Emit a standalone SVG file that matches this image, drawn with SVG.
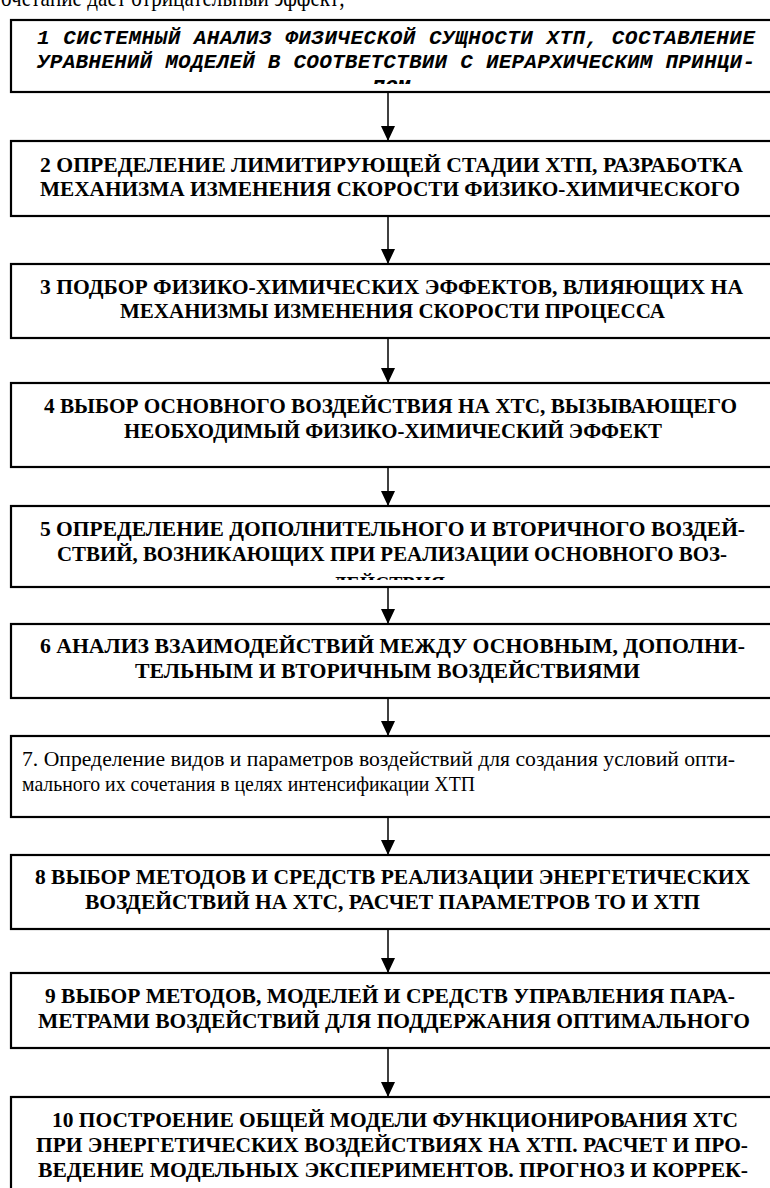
<svg xmlns="http://www.w3.org/2000/svg" width="770" height="1188" viewBox="0 0 770 1188">
<style>
.box{fill:#fff;stroke:#000;stroke-width:2.2}
.t{font-family:"Liberation Serif","Times New Roman",serif;font-size:21px;font-weight:bold;fill:#000}
.n{font-family:"Liberation Serif","Times New Roman",serif;font-size:21px;fill:#000}
.m{font-family:"Liberation Mono","Courier New",monospace;font-size:21px;font-weight:bold;font-style:italic;fill:#000}
.top{font-family:"Liberation Serif","Times New Roman",serif;font-size:26px;fill:#000}
.c{stroke:#000;stroke-width:1.5;fill:none}
</style>
<defs>
<marker id="ah" markerUnits="userSpaceOnUse" markerWidth="16" markerHeight="16" viewBox="0 0 16 16" refX="15" refY="8" orient="auto">
<path d="M0,1 L15,8 L0,15 Z" fill="#000"/>
</marker>
<clipPath id="c1"><rect x="11" y="20" width="780" height="64"/></clipPath>
<clipPath id="c5"><rect x="11" y="506" width="780" height="74"/></clipPath>
</defs>
<rect width="770" height="1188" fill="#fff"/>
<text class="top" x="1" y="6" textLength="344" lengthAdjust="spacingAndGlyphs">очетание дает отрицательный эффект;</text>

<g id="connectors">
<line class="c" x1="388" y1="92" x2="388" y2="141" marker-end="url(#ah)"/>
<line class="c" x1="388" y1="216" x2="388" y2="264" marker-end="url(#ah)"/>
<line class="c" x1="388" y1="338" x2="388" y2="383" marker-end="url(#ah)"/>
<line class="c" x1="388" y1="467" x2="388" y2="506" marker-end="url(#ah)"/>
<line class="c" x1="388" y1="587" x2="388" y2="624" marker-end="url(#ah)"/>
<line class="c" x1="388" y1="698" x2="388" y2="736" marker-end="url(#ah)"/>
<line class="c" x1="388" y1="817" x2="388" y2="855" marker-end="url(#ah)"/>
<line class="c" x1="388" y1="929" x2="388" y2="973" marker-end="url(#ah)"/>
<line class="c" x1="388" y1="1048" x2="388" y2="1097" marker-end="url(#ah)"/>
</g>

<g id="node1">
<rect class="box" x="11" y="20" width="780" height="72"/>
<g clip-path="url(#c1)">
<text class="m" x="37" y="44" textLength="718" lengthAdjust="spacing">1  СИСТЕМНЫЙ АНАЛИЗ ФИЗИЧЕСКОЙ СУЩНОСТИ ХТП, СОСТАВЛЕНИЕ</text>
<text class="m" x="37" y="68" textLength="718" lengthAdjust="spacing">УРАВНЕНИЙ МОДЕЛЕЙ В СООТВЕТСТВИИ С ИЕРАРХИЧЕСКИМ ПРИНЦИ-</text>
<text class="m" x="372" y="93" textLength="38" lengthAdjust="spacingAndGlyphs">ПОМ</text>
</g>
</g>

<g id="node2">
<rect class="box" x="11" y="141" width="780" height="75"/>
<text class="t" x="40" y="172" textLength="703" lengthAdjust="spacingAndGlyphs">2  ОПРЕДЕЛЕНИЕ ЛИМИТИРУЮЩЕЙ СТАДИИ ХТП, РАЗРАБОТКА</text>
<text class="t" x="40" y="196" textLength="700" lengthAdjust="spacingAndGlyphs">МЕХАНИЗМА ИЗМЕНЕНИЯ СКОРОСТИ ФИЗИКО-ХИМИЧЕСКОГО</text>
</g>

<g id="node3">
<rect class="box" x="11" y="264" width="780" height="74"/>
<text class="t" x="40" y="294" textLength="703" lengthAdjust="spacingAndGlyphs">3  ПОДБОР ФИЗИКО-ХИМИЧЕСКИХ ЭФФЕКТОВ, ВЛИЯЮЩИХ НА</text>
<text class="t" x="120" y="318" textLength="545" lengthAdjust="spacingAndGlyphs">МЕХАНИЗМЫ ИЗМЕНЕНИЯ СКОРОСТИ ПРОЦЕССА</text>
</g>

<g id="node4">
<rect class="box" x="11" y="383" width="780" height="84"/>
<text class="t" x="44" y="413" textLength="693" lengthAdjust="spacingAndGlyphs">4 ВЫБОР ОСНОВНОГО ВОЗДЕЙСТВИЯ НА ХТС, ВЫЗЫВАЮЩЕГО</text>
<text class="t" x="124" y="438" textLength="538" lengthAdjust="spacingAndGlyphs">НЕОБХОДИМЫЙ ФИЗИКО-ХИМИЧЕСКИЙ ЭФФЕКТ</text>
</g>

<g id="node5">
<rect class="box" x="11" y="506" width="780" height="81"/>
<g clip-path="url(#c5)">
<text class="t" x="40" y="536" textLength="705" lengthAdjust="spacingAndGlyphs">5  ОПРЕДЕЛЕНИЕ ДОПОЛНИТЕЛЬНОГО И ВТОРИЧНОГО ВОЗДЕЙ-</text>
<text class="t" x="57" y="561" textLength="670" lengthAdjust="spacingAndGlyphs">СТВИЙ, ВОЗНИКАЮЩИХ ПРИ РЕАЛИЗАЦИИ ОСНОВНОГО ВОЗ-</text>
<text class="t" x="333" y="591" textLength="112" lengthAdjust="spacingAndGlyphs">ДЕЙСТВИЯ</text>
</g>
</g>

<g id="node6">
<rect class="box" x="11" y="624" width="780" height="74"/>
<text class="t" x="40" y="653" textLength="705" lengthAdjust="spacingAndGlyphs">6  АНАЛИЗ ВЗАИМОДЕЙСТВИЙ МЕЖДУ ОСНОВНЫМ, ДОПОЛНИ-</text>
<text class="t" x="135" y="678" textLength="505" lengthAdjust="spacingAndGlyphs">ТЕЛЬНЫМ И ВТОРИЧНЫМ ВОЗДЕЙСТВИЯМИ</text>
</g>

<g id="node7">
<rect class="box" x="11" y="736" width="780" height="81"/>
<text class="n" x="22" y="766" textLength="713" lengthAdjust="spacingAndGlyphs">7.  Определение видов и параметров воздействий для создания условий опти-</text>
<text class="n" x="22" y="791" textLength="453" lengthAdjust="spacingAndGlyphs">мального их сочетания в целях интенсификации ХТП</text>
</g>

<g id="node8">
<rect class="box" x="11" y="855" width="780" height="74"/>
<text class="t" x="35" y="884" textLength="715" lengthAdjust="spacingAndGlyphs">8  ВЫБОР МЕТОДОВ И СРЕДСТВ РЕАЛИЗАЦИИ ЭНЕРГЕТИЧЕСКИХ</text>
<text class="t" x="85" y="909" textLength="615" lengthAdjust="spacingAndGlyphs">ВОЗДЕЙСТВИЙ НА ХТС, РАСЧЕТ ПАРАМЕТРОВ ТО И ХТП</text>
</g>

<g id="node9">
<rect class="box" x="11" y="973" width="780" height="75"/>
<text class="t" x="45" y="1003" textLength="690" lengthAdjust="spacingAndGlyphs">9  ВЫБОР МЕТОДОВ, МОДЕЛЕЙ И СРЕДСТВ УПРАВЛЕНИЯ ПАРА-</text>
<text class="t" x="38" y="1028" textLength="712" lengthAdjust="spacingAndGlyphs">МЕТРАМИ ВОЗДЕЙСТВИЙ ДЛЯ ПОДДЕРЖАНИЯ ОПТИМАЛЬНОГО</text>
</g>

<g id="node10">
<rect class="box" x="11" y="1097" width="780" height="120"/>
<text class="t" x="52" y="1127" textLength="686" lengthAdjust="spacingAndGlyphs">10  ПОСТРОЕНИЕ ОБЩЕЙ МОДЕЛИ ФУНКЦИОНИРОВАНИЯ ХТС</text>
<text class="t" x="36" y="1152" textLength="712" lengthAdjust="spacingAndGlyphs">ПРИ ЭНЕРГЕТИЧЕСКИХ ВОЗДЕЙСТВИЯХ НА ХТП. РАСЧЕТ И ПРО-</text>
<text class="t" x="38" y="1177" textLength="710" lengthAdjust="spacingAndGlyphs">ВЕДЕНИЕ МОДЕЛЬНЫХ ЭКСПЕРИМЕНТОВ. ПРОГНОЗ И КОРРЕК-</text>
</g>
</svg>
